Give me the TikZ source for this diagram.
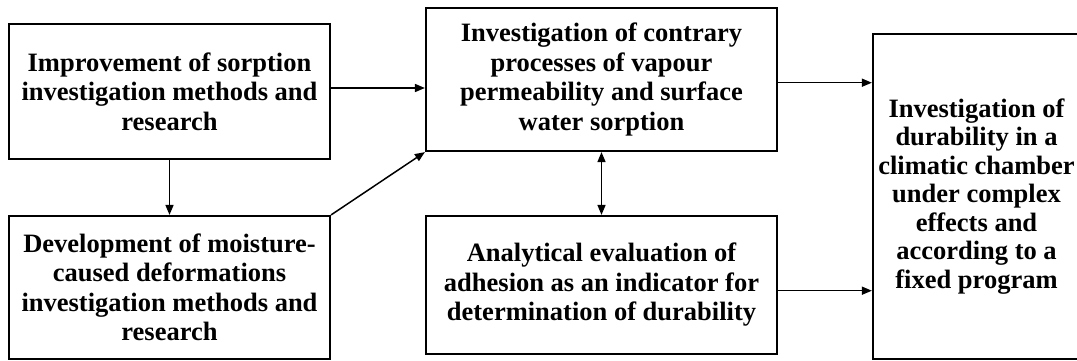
\documentclass[tikz,border=0pt]{standalone}
\usepackage{fontspec}
\setmainfont{Liberation Serif}
\usetikzlibrary{arrows.meta,calc}
\begin{document}
\begin{tikzpicture}[x=1pt,y=-1pt,
  box/.style={draw=black, line width=2.2pt, rectangle, inner sep=0pt, align=center,
    font=\fontsize{26.5}{29.5}\selectfont\bfseries},
  arr/.style={line width=1.5pt, -{Triangle[length=10pt,width=8pt]}},
  darr/.style={line width=1.5pt, {Triangle[length=10pt,width=8pt]}-{Triangle[length=10pt,width=8pt]}}]
\useasboundingbox (0,0) rectangle (1077,361);
\node[box, minimum width=321pt, minimum height=135pt] (A) at (169.5,91.5)
  {Improvement of sorption\\investigation methods and\\research};
\node[box, minimum width=321pt, minimum height=143pt] (B) at (169.5,287.5)
  {Development of moisture-\\caused deformations\\investigation methods and\\research};
\node[box, minimum width=351pt, minimum height=143pt] (C) at (601.5,79.5)
  {Investigation of contrary\\processes of vapour\\permeability and surface\\water sorption};
\node[box, minimum width=351pt, minimum height=138pt] (D) at (601.5,285)
  {Analytical evaluation of\\adhesion as an indicator for\\determination of durability};
\node[box, minimum width=207pt, minimum height=325pt,
  font=\fontsize{26.5}{28.5}\selectfont\bfseries] (E) at (976.5,196.5)
  {Investigation of\\durability in a\\climatic chamber\\under complex\\effects and\\according to a\\fixed program};
\draw[arr] ([yshift=3.5pt]A.east) coordinate (a1) -- (a1 -| C.west);
\draw[arr] (A.south) -- (B.north);
\draw[arr] (B.north east) -- (C.south west);
\draw[darr] (C.south) -- (D.north);
\draw[arr] ([yshift=-3.2pt]C.east) coordinate (c1) -- (c1 -| E.west);
\draw[arr] ([yshift=-5.7pt]D.east) coordinate (d1) -- (d1 -| E.west);
\end{tikzpicture}
\end{document}
